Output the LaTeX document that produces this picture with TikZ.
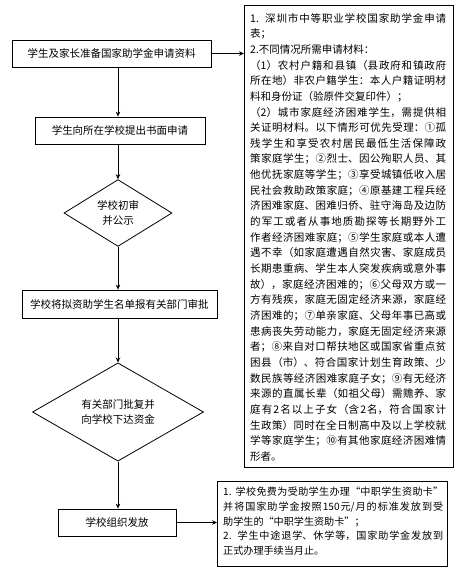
\documentclass[tikz,border=0pt]{standalone}
\usepackage{fontspec}
\newfontfamily\cjk{Noto Sans CJK SC}
\usetikzlibrary{shapes.geometric,arrows.meta}
\XeTeXlinebreaklocale "zh"
\XeTeXlinebreakskip=0pt plus 1pt
\begin{document}
\begin{tikzpicture}[x=1pt,y=-1pt,
  box/.style={draw, line width=0.8pt, inner sep=0pt, font=\cjk\fontsize{10.5}{15}\selectfont},
  dia/.style={draw, diamond, line width=0.8pt, inner sep=0pt, align=center, font=\cjk\fontsize{10.5}{15}\selectfont},
  txt/.style={anchor=north west, align=justify, inner sep=0pt},
  arr/.style={line width=0.8pt, -{Stealth[length=5pt,width=4.5pt]}}]
\useasboundingbox (0,0) rectangle (459,579);
\node[box, minimum width=199, minimum height=27] (b1) at (111.5,53.5) {学生及家长准备国家助学金申请资料};
\node[box, minimum width=170, minimum height=27] (b2) at (120,130.5) {学生向所在学校提出书面申请};
\node[dia, minimum width=108, minimum height=62] (d1) at (118,213) {学校初审\\并公示};
\node[box, minimum width=195, minimum height=28] (b3) at (119.5,304) {学校将拟资助学生名单报有关部门审批};
\node[dia, minimum width=171, minimum height=71] (d2) at (118,412) {有关部门批复并\\向学校下达资金};
\node[box, minimum width=118, minimum height=27] (b4) at (117,522.5) {学校组织发放};
\node[box, minimum width=209, minimum height=462, anchor=north west] (r1) at (244,5) {};
\node[box, minimum width=230, minimum height=85, anchor=north west] (r2) at (217,481) {};
\node[txt, text width=196pt, font=\cjk\fontsize{10.5}{15.65}\selectfont] (t1) at (250,13) {%
1. 深圳市中等职业学校国家助学金申请\linebreak
表；\\
2.不同情况所需申请材料：\\
（1）农村户籍和县镇（县政府和镇政府\linebreak
所在地）非农户籍学生：本人户籍证明材\linebreak
料和身份证（验原件交复印件）；\\
（2）城市家庭经济困难学生，需提供相\linebreak
关证明材料。以下情形可优先受理：①孤\linebreak
残学生和享受农村居民最低生活保障政\linebreak
策家庭学生；②烈士、因公殉职人员、其\linebreak
他优抚家庭等学生；③享受城镇低收入居\linebreak
民社会救助政策家庭；④原基建工程兵经\linebreak
济困难家庭、困难归侨、驻守海岛及边防\linebreak
的军工或者从事地质勘探等长期野外工\linebreak
作者经济困难家庭；⑤学生家庭或本人遭\linebreak
遇不幸（如家庭遭遇自然灾害、家庭成员\linebreak
长期患重病、学生本人突发疾病或意外事\linebreak
故），家庭经济困难的；⑥父母双方或一\linebreak
方有残疾，家庭无固定经济来源，家庭经\linebreak
济困难的；⑦单亲家庭、父母年事已高或\linebreak
患病丧失劳动能力，家庭无固定经济来源\linebreak
者；⑧来自对口帮扶地区或国家省重点贫\linebreak
困县（市）、符合国家计划生育政策、少\linebreak
数民族等经济困难家庭子女；⑨有无经济\linebreak
来源的直属长辈（如祖父母）需赡养、家\linebreak
庭有2名以上子女（含2名，符合国家计\linebreak
生政策）同时在全日制高中及以上学校就\linebreak
学等家庭学生；⑩有其他家庭经济困难情\linebreak
形者。};
\node[txt, text width=220pt, font=\cjk\fontsize{10.1}{14.7}\selectfont] (t2) at (223,487) {%
1. 学校免费为受助学生办理“中职学生资助卡”\linebreak
并将国家助学金按照150元/月的标准发放到受\linebreak
助学生的“中职学生资助卡”；\\
2. 学生中途退学、休学等，国家助学金发放到\linebreak
正式办理手续当月止。};
\draw[arr] (b1.south -| d1.center) -- (b2.north -| d1.center);
\draw[arr] (b2.south -| d1.center) -- (d1.north);
\draw[arr] (d1.south) -- (b3.north -| d1.center);
\draw[arr] (b3.south -| d2.center) -- (d2.north);
\draw[arr] (d2.south) -- (b4.north -| d2.center);
\draw[arr] (b1.east) -- (b1.east -| r1.west);
\draw[arr] (b4.east) -- (b4.east -| r2.west);
\end{tikzpicture}
\end{document}
